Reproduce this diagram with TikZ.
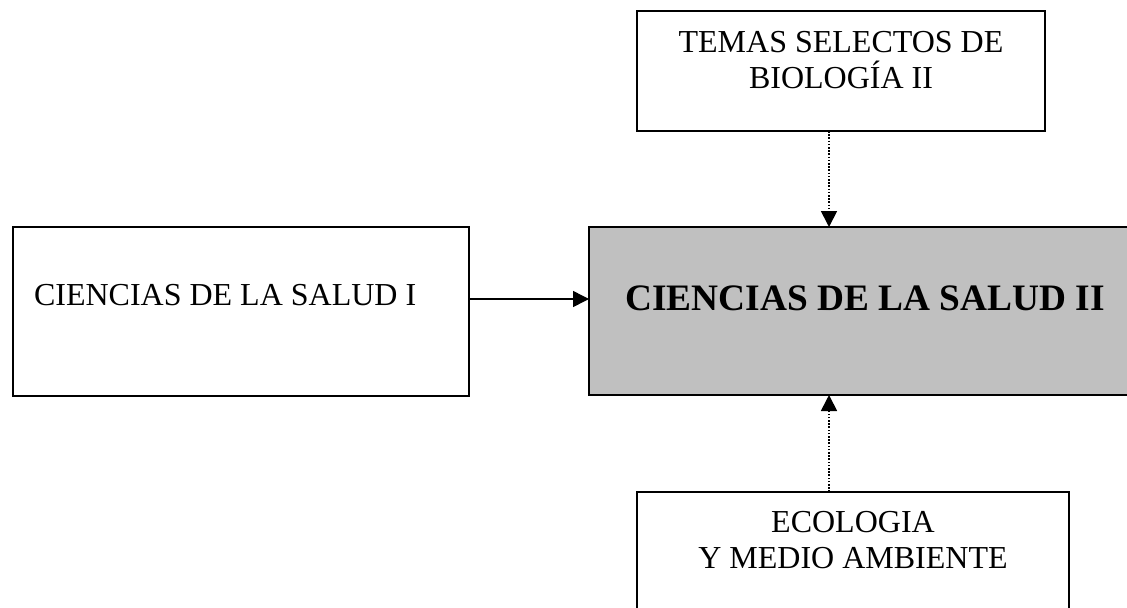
\documentclass[tikz,border=0pt]{standalone}
\usepackage{fontspec}
\setmainfont{Liberation Serif}
\usetikzlibrary{arrows.meta}
\definecolor{boxgray}{RGB}{192,192,192}
\tikzset{
  box/.style={draw=black, line width=1.1pt, inner sep=0pt, outer sep=0pt, fill=white},
  mainbox/.style={box, fill=boxgray},
  txt/.style={inner sep=0pt, outer sep=0pt, font=\fontsize{24pt}{27pt}\selectfont},
  bigtxt/.style={inner sep=0pt, outer sep=0pt, font=\fontsize{28pt}{32pt}\selectfont\bfseries},
  conn/.style={line width=1.1pt, -{Triangle[length=12pt,width=12pt]}},
  dotconn/.style={conn, line width=1.3pt, dash pattern=on 1.2pt off 1.2pt}
}
\begin{document}
\begin{tikzpicture}[x=0.75pt,y=-0.75pt]
\clip (0,0) rectangle (1127,607);
\fill[white] (0,0) rectangle (1127,607);
% boxes
\node[box, minimum width=306pt, minimum height=90pt] (top) at (841,71) {};
\node[box, minimum width=342pt, minimum height=126.75pt] (left) at (241,311.5) {};
\node[mainbox, minimum width=414pt, minimum height=126pt] (main) at (865,311) {};
\node[box, minimum width=324pt, minimum height=102pt] (bottom) at (853,560) {};
% texts
\node[txt, anchor=base] (t1) at (841,52) {TEMAS SELECTOS DE};
\node[txt, anchor=base] (t2) at (841,88) {BIOLOGÍA II};
\node[txt, anchor=base west] (l1) at (34,305) {CIENCIAS DE LA SALUD I};
\node[bigtxt, anchor=base] (m1) at (865,310) {CIENCIAS DE LA SALUD II};
\node[txt, anchor=base] (b1) at (853,532) {ECOLOGIA};
\node[txt, anchor=base] (b2) at (853,568) {Y MEDIO AMBIENTE};
% connectors
\coordinate (ax) at (829,0);
\coordinate (ay) at (0,299);
\draw[conn] (left.east |- ay) -- (main.west |- ay);
\draw[dotconn] (top.south -| ax) -- (main.north -| ax);
\draw[dotconn] (bottom.north -| ax) -- (main.south -| ax);
\end{tikzpicture}
\end{document}
